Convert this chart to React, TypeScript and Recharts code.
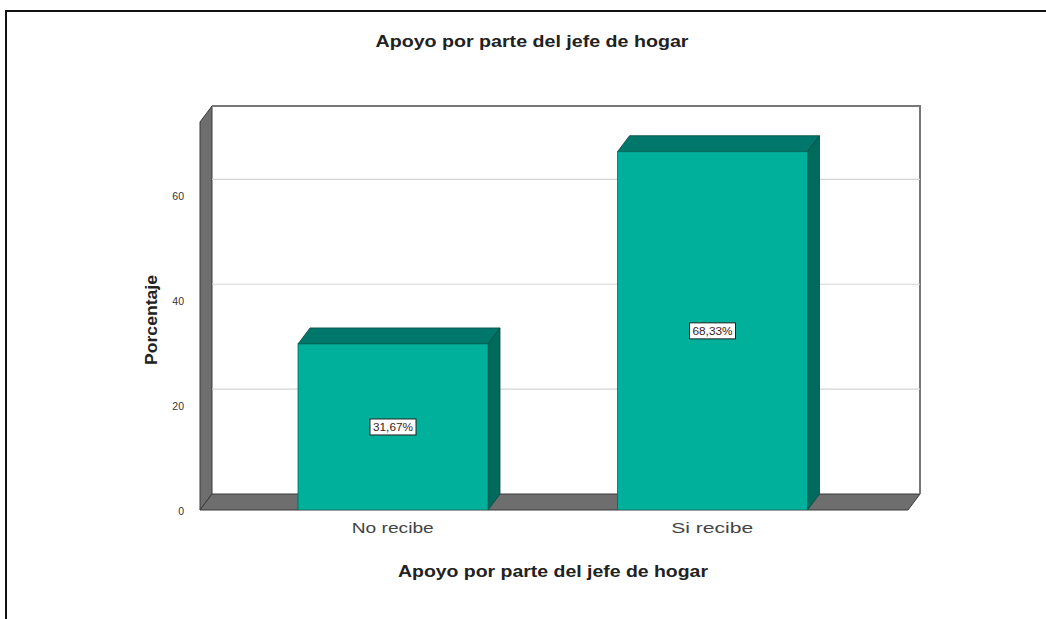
import React from 'react';
import { BarChart, Bar, XAxis, YAxis, CartesianGrid, ReferenceArea } from 'recharts';

const categories = ['No recibe', 'Si recibe'];
const percentages = [31.67, 68.33];
const percentLabels = ['31,67%', '68,33%'];
const yTicks = [0, 20, 40, 60];
const gridValues = [20, 40, 60];

const chartTitle = 'Apoyo por parte del jefe de hogar';
const xTitle = 'Apoyo por parte del jefe de hogar';
const yTitle = 'Porcentaje';

const data = categories.map((name, i) => ({ name, pct: percentages[i], label: percentLabels[i] }));

const DX = 12;
const DY = 16;
const PAD_L = 33;
const PAD_R = 36;
const FONT = '"Liberation Sans", Arial, sans-serif';

const Bar3D = (props: any) => {
  const { x, y, width, height, payload } = props;
  if (width == null || height == null) return null;
  const cx = x + width / 2;
  const cy = y + height / 2;
  return (
    <g>
      <polygon
        points={`${x},${y} ${x + DX},${y - DY} ${x + width + DX},${y - DY} ${x + width},${y}`}
        fill="#00776a"
        stroke="#00493f"
        strokeWidth={0.8}
      />
      <polygon
        points={`${x + width},${y} ${x + width + DX},${y - DY} ${x + width + DX},${y + height - DY} ${x + width},${y + height}`}
        fill="#006a5c"
        stroke="#00493f"
        strokeWidth={0.8}
      />
      <rect x={x} y={y} width={width} height={height} fill="#00b09b" stroke="#00695b" strokeWidth={0.8} />
      <rect x={cx - 23} y={cy - 8} width={46} height={16} fill="#ffffff" stroke="#222" strokeWidth={1} />
      <text x={cx} y={cy + 4} textAnchor="middle" fontSize={10} fontFamily={FONT} fill="#3a2020" textLength={40} lengthAdjust="spacingAndGlyphs">
        {payload.label}
      </text>
    </g>
  );
};

const Walls = (props: any) => {
  const { x: x0, y, width: w0, height } = props;
  const x = x0 - PAD_L;
  const width = w0 + PAD_L + PAD_R;
  const bottom = y + height;
  return (
    <g>
      <polygon
        points={`${x},${y} ${x + DX},${y - DY} ${x + DX},${bottom - DY} ${x},${bottom}`}
        fill="#6e6e6e"
        stroke="#3a3a3a"
        strokeWidth={1}
      />
      <polygon
        points={`${x},${bottom} ${x + DX},${bottom - DY} ${x + width + DX},${bottom - DY} ${x + width},${bottom}`}
        fill="#6e6e6e"
        stroke="#3a3a3a"
        strokeWidth={1}
      />
      <polyline
        points={`${x + DX},${y - DY} ${x + width + DX},${y - DY} ${x + width + DX},${bottom - DY}`}
        fill="none"
        stroke="#777"
        strokeWidth={2}
      />
    </g>
  );
};

const gridLine = (props: any) => {
  const { x1, y1, x2, y2 } = props;
  return <line key={`g-${y1}`} x1={x1 + DX} y1={y1 - DY} x2={x2 + DX} y2={y2 - DY} stroke="#d4d4d4" strokeWidth={1.2} />;
};

const YTick = (props: any) => {
  const { x, y, payload } = props;
  return (
    <text x={x} y={y + 5} textAnchor="end" fontSize={10.5} fontFamily={FONT} fill="#333">
      {payload.value}
    </text>
  );
};

const XTick = (props: any) => {
  const { x, y, payload } = props;
  return (
    <text x={x} y={y + 21} textAnchor="middle" fontSize={15} fontFamily={FONT} fill="#444" textLength={82} lengthAdjust="spacingAndGlyphs">
      {payload.value}
    </text>
  );
};

export default function App() {
  return (
    <div style={{ position: 'absolute', left: 0, top: 0, width: 1046, height: 619, overflow: 'hidden', background: '#fff' }}>
      <div style={{ position: 'absolute', left: 5, top: 10, width: 1100, height: 700, border: '2px solid #111' }} />
      <div style={{ position: 'absolute', left: 0, top: 0 }}>
        <BarChart
          width={1046}
          height={619}
          data={data}
          margin={{ top: 122, right: 138, bottom: 49, left: 160 }}
          barSize={190}
        >
          <ReferenceArea y1={0} y2={74} ifOverflow="visible" shape={<Walls />} fill="none" stroke="none" zIndex={-200} />
          <CartesianGrid vertical={false} horizontal={gridLine} horizontalValues={gridValues} />
          <XAxis
            dataKey="name"
            axisLine={false}
            tickLine={false}
            tickSize={0}
            height={60}
            padding={{ left: PAD_L, right: PAD_R }}
            tick={<XTick />}
            interval={0}
          />
          <YAxis
            type="number"
            domain={[0, 74]}
            ticks={yTicks}
            axisLine={false}
            tickLine={false}
            tickSize={0}
            tickMargin={16}
            width={40}
            tick={<YTick />}
            allowDataOverflow
          />
          <Bar dataKey="pct" isAnimationActive={false} shape={<Bar3D />} />
        </BarChart>
      </div>
      <svg width={1046} height={619} style={{ position: 'absolute', left: 0, top: 0, pointerEvents: 'none' }}>
        <text x={532} y={47} textAnchor="middle" fontSize={16} fontWeight="bold" fontFamily={FONT} fill="#222" textLength={313} lengthAdjust="spacingAndGlyphs">
          {chartTitle}
        </text>
        <text x={553} y={577} textAnchor="middle" fontSize={16} fontWeight="bold" fontFamily={FONT} fill="#222" textLength={310} lengthAdjust="spacingAndGlyphs">
          {xTitle}
        </text>
        <text x={157} y={320} transform="rotate(-90 157 320)" textAnchor="middle" fontSize={16} fontWeight="bold" fontFamily={FONT} fill="#222" textLength={90} lengthAdjust="spacingAndGlyphs">
          {yTitle}
        </text>
      </svg>
    </div>
  );
}
